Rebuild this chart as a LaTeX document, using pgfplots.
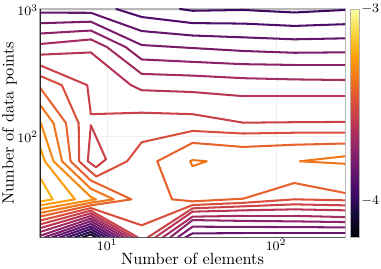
\documentclass[border=0pt]{standalone}
\usepackage{pgfplots}
\pgfplotsset{compat=1.18}
\pgfplotsset{colormap={inferno}{rgb255=(0,0,4) rgb255=(22,11,57) rgb255=(66,10,104) rgb255=(106,23,110) rgb255=(147,38,103) rgb255=(188,55,84) rgb255=(221,81,58) rgb255=(243,120,25) rgb255=(252,165,10) rgb255=(246,215,70) rgb255=(252,255,164)}}
\newcommand{\cl}[2]{\addplot[mesh, point meta=#1, line width=1.25pt, line cap=round, line join=round] coordinates {#2};}
\begin{document}
\begin{tikzpicture}
\begin{axis}[
  name=main,
  scale only axis, width=187pt, height=140pt,
  xmin=2, xmax=8, ymin=4, ymax=10,
  xtick={3.321928,6.643856}, xticklabels={$10^{1}$,$10^{2}$},
  ytick={6.643856,9.965784}, yticklabels={$10^{2}$,$10^{3}$},
  xlabel={Number of elements}, ylabel={Number of data points},
  xlabel style={at={(axis description cs:0.5,-0.094)}, anchor=center, inner sep=0pt},
  ylabel style={at={(axis description cs:-0.1,0.5)}, anchor=center, inner sep=0pt},
  xticklabel style={inner sep=1pt}, yticklabel style={inner sep=1pt},
  colormap name=inferno, point meta min=-4.19, point meta max=-3.0,
  colorbar shift/.style={xshift=3pt},
  colorbar,
  colorbar style={scale only axis, width=6pt, at={(parent axis.north east)}, anchor=north west,
    ytick={-4,-3}, major tick length=0pt, tick label style={font=\footnotesize, inner sep=0.8pt}, axis line style={gray!60}},
  grid=major, grid style={gray!12, line width=0.4pt},
  axis line style={gray!55, line width=0.7pt},
  major tick length=0pt,
  tick label style={font=\footnotesize},
]
% top family
\cl{-3.973}{(4.750,10) (5,9.953) (6,9.974) (7,9.908) (8,9.974)}
\cl{-3.912}{(3.50,10) (4,9.789) (5,9.629) (6,9.616) (7,9.555) (8,9.600)}
\cl{-3.851}{(2,9.903) (3,9.900) (4,9.421) (5,9.303) (6,9.255) (7,9.203) (8,9.229)}
\cl{-3.790}{(2,9.626) (3,9.666) (4,9.053) (4.668,9) (5,8.974) (6,8.897) (7,8.850) (8,8.861)}
\cl{-3.729}{(2,9.355) (3,9.434) (3.684,9) (4,8.674) (5,8.611) (6,8.55) (7,8.53) (8,8.53)}
\cl{-3.668}{(2,9.079) (3,9.2) (3.316,9) (4,8.295) (5,8.25) (6,8.182) (7,8.150) (8,8.134)}
\cl{-3.607}{(2,8.8) (3,8.858) (3.788,8) (4,7.866) (5,7.818) (6,7.71) (7,7.71) (8,7.71)}
\cl{-3.546}{(2,8.521) (2.929,8) (3,7.237) (4,7.276) (5,7.237) (6,7.013) (7,7.026) (8,7.034)}
\cl{-3.546}{(3,6.947) (2.940,6) (3.102,5.842) (3.298,6.053) (3,6.947)}
\cl{-3.485}{(2,8.242) (2.429,8) (2.761,7) (2.771,6) (3,5.72) (3.11,5.60) (3.714,6) (4,6.5) (5,6.797) (6,6.729) (7,6.75) (8,6.755)}
\cl{-3.424}{(8,6.466) (7,6.434) (6,6.376) (5,6.482) (4.306,6) (4.597,5) (5,4.947) (6,5.018) (7,5.429) (8,5.166)}
\cl{-3.363}{(4.953,6) (5,6.032) (5.278,6) (5,5.871) (4.953,6)}
\cl{-3.363}{(8,6.132) (7.115,6) (8,5.934)}
% left loops
\cl{-3.424}{(2,7.934) (2.513,7) (2.602,6) (3,5.495) (3.798,5) (3,4.842) (2,4.547)}
\cl{-3.363}{(2,7.484) (2.266,7) (2.435,6) (3,5.279) (3.450,5) (3,4.911) (2,4.642)}
\cl{-3.310}{(2,7.032) (2.018,7) (2.266,6) (3,5.063) (3.1,5) (3,4.979) (2,4.742)}
\cl{-3.262}{(2,6.382) (2.096,6) (2.687,5) (2,4.842)}
\cl{-3.215}{(2,5.571) (2.25,5) (2,4.942)}
% bottom family
\cl{-3.485}{(2,4.442) (3,4.771) (4,4.318) (5,4.85) (6,4.908) (7,5.0) (8,4.974)}
\cl{-3.546}{(2,4.342) (3,4.703) (3.926,4)}
\cl{-3.607}{(2,4.242) (3,4.634) (3.834,4)}
\cl{-3.668}{(2,4.142) (3,4.563) (3.743,4)}
\cl{-3.729}{(2,4.042) (3,4.495) (3.653,4)}
\cl{-3.790}{(2.085,4) (3,4.426) (3.560,4)}
\cl{-3.851}{(2.234,4) (3,4.355) (3.470,4)}
\cl{-3.912}{(2.384,4) (3,4.287) (3.377,4)}
\cl{-3.973}{(2.531,4) (3,4.219) (3.287,4)}
\cl{-4.034}{(2.681,4) (3,4.147) (3.194,4)}
\cl{-4.095}{(2.830,4) (3,4.079) (3.104,4)}
\cl{-3.546}{(4.119,4) (5,4.763) (6,4.816) (7,4.868) (8,4.842)}
\cl{-3.607}{(4.266,4) (5,4.676) (6,4.711) (7,4.737) (8,4.711)}
\cl{-3.668}{(4.412,4) (5,4.545) (6,4.566) (7,4.566) (8,4.534)}
\cl{-3.729}{(4.560,4) (5,4.455) (6,4.434) (7,4.421) (8,4.403)}
\cl{-3.790}{(4.707,4) (5,4.282) (6,4.276) (7,4.271) (8,4.263)}
\cl{-3.851}{(4.855,4) (5,4.105) (6,4.113) (7,4.113) (8,4.113)}
\draw[black!85, line width=0.9pt] (rel axis cs:0,0) -- (rel axis cs:0,1);
\draw[black!65, line width=0.9pt] (rel axis cs:0,0) -- (rel axis cs:1,0);
\end{axis}
\pgfresetboundingbox
\path[use as bounding box] ([shift={(-24.5pt,-19pt)}]main.south west) rectangle ([shift={(22pt,5.5pt)}]main.north east);
\end{tikzpicture}
\end{document}
